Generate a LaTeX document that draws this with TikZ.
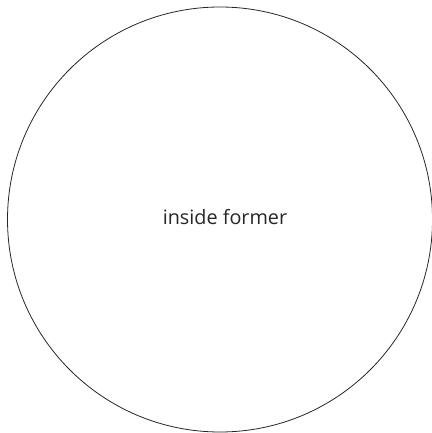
\documentclass[tikz,border=0pt]{standalone}
\usepackage{fontspec}
\setmainfont{Open Sans}
\begin{document}
\begin{tikzpicture}[x=1pt,y=1pt,
  formerline/.style={draw=black!85,line width=0.8pt},
  lbl/.style={font=\fontsize{19.8}{24}\selectfont,text=black!85,inner sep=0pt}]
\useasboundingbox (0,0) rectangle (431,433);
\node[formerline,circle,minimum size=425pt,inner sep=0pt] (former) at (220,213.5) {};
\node[lbl] (label) at (225,215.5) {inside former};
\end{tikzpicture}
\end{document}
